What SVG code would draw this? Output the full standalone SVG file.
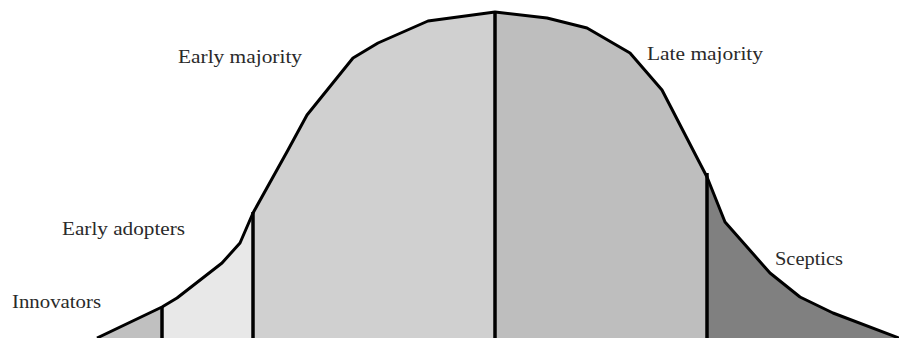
<svg xmlns="http://www.w3.org/2000/svg" width="899" height="338" viewBox="0 0 899 338">
<style>
.seg{stroke:none}
.curve{fill:none;stroke:#000;stroke-width:3;stroke-linejoin:round}
.div{stroke:#000;stroke-width:3.5}
.lbl{font-family:"Liberation Serif","DejaVu Serif",serif;font-size:18px;fill:#2a2a2a}
</style>
<rect width="899" height="338" fill="#fff"/>
<g id="innovators">
<polygon class="seg" fill="#c0c0c0" points="97,338 162,307 162,338"/>
<text class="lbl" x="12" y="308" textLength="89" lengthAdjust="spacingAndGlyphs">Innovators</text>
</g>
<g id="early-adopters">
<polygon class="seg" fill="#e8e8e8" points="162,307 177,298 222,263 240,243 253,213 253,338 162,338"/>
<text class="lbl" x="62" y="235" textLength="123" lengthAdjust="spacingAndGlyphs">Early adopters</text>
</g>
<g id="early-majority">
<polygon class="seg" fill="#d0d0d0" points="253,213 288,150 307,115 353,58 378,43 428,21 495,12 495,338 253,338"/>
<text class="lbl" x="178" y="63" textLength="124" lengthAdjust="spacingAndGlyphs">Early majority</text>
</g>
<g id="late-majority">
<polygon class="seg" fill="#bebebe" points="495,12 547,18 587,28 630,53 662,90 693,150 707,177 707,338 495,338"/>
<text class="lbl" x="647" y="60" textLength="116" lengthAdjust="spacingAndGlyphs">Late majority</text>
</g>
<g id="sceptics">
<polygon class="seg" fill="#808080" points="707,177 725,222 770,273 800,297 833,313 899,338 707,338"/>
<text class="lbl" x="775" y="265" textLength="68" lengthAdjust="spacingAndGlyphs">Sceptics</text>
</g>
<g id="connectors">
<polyline class="curve" points="97,338 162,307 177,298 222,263 240,243 253,213 288,150 307,115 353,58 378,43 428,21 495,12 547,18 587,28 630,53 662,90 693,150 707,177 725,222 770,273 800,297 833,313 899,338"/>
<line class="div" x1="162" y1="307" x2="162" y2="338"/>
<line class="div" x1="253" y1="212" x2="253" y2="338"/>
<line class="div" x1="495" y1="12" x2="495" y2="338"/>
<line class="div" x1="707" y1="173" x2="707" y2="338"/>
</g>
</svg>
